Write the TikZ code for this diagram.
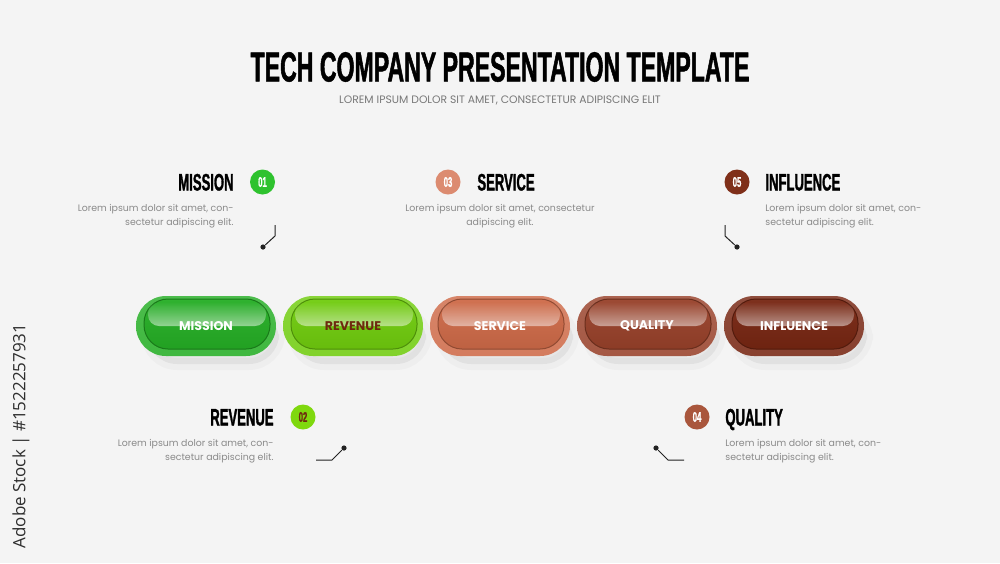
\documentclass[tikz,border=0pt]{standalone}
\usepackage{fontspec}
\setmainfont{Poppins}
\newfontfamily\headfont[FakeStretch=0.55, FakeBold=1.2]{Liberation Sans}
\newfontfamily\stockfont{Open Sans}
\usetikzlibrary{positioning, calc, fadings}

\definecolor{bgcol}{HTML}{F4F4F4}
\definecolor{txtgray}{HTML}{8A8A8A}
\definecolor{subgray}{HTML}{787878}
\definecolor{stockgray}{HTML}{2E2E2E}
\definecolor{linecol}{HTML}{222222}
\definecolor{missioncol}{HTML}{25AE25}
\definecolor{revenuecol}{HTML}{70CC0E}
\definecolor{servicecol}{HTML}{CE6A48}
\definecolor{qualitycol}{HTML}{98412A}
\definecolor{influencecol}{HTML}{772612}
\definecolor{revtext}{HTML}{6E2A0E}
\definecolor{badgeone}{HTML}{2EC22E}
\definecolor{badgetwo}{HTML}{7FD80E}
\definecolor{badgethree}{HTML}{DC8B70}
\definecolor{badgefour}{HTML}{A9563C}
\definecolor{badgefive}{HTML}{7F2F19}

\begin{document}
\begin{tikzpicture}[
    x=0.5pt, y=-0.5pt,
    title/.style={font=\headfont\bfseries\fontsize{21}{21}\selectfont, text=black, inner sep=0pt},
    subtitle/.style={font=\fontsize{5.4}{6}\selectfont, text=subgray, inner sep=0pt},
    heading/.style={font=\headfont\bfseries\fontsize{11.9}{12}\selectfont, text=black, inner sep=0pt},
    body/.style={font=\fontsize{4.7}{7}\selectfont, text=txtgray, inner sep=0pt},
    badge/.style={
        circle, fill=#1, minimum size=12.5pt, inner sep=0pt,
        text=white, font=\headfont\bfseries\fontsize{7}{7}\selectfont
    },
    pillshadow/.style={
        rectangle, rounded corners=15pt, fill=black, fill opacity=0.05,
        draw=black, draw opacity=0.025, line width=6pt,
        minimum width=66pt, minimum height=27pt
    },
    pillrim/.style={
        rectangle, rounded corners=15pt, minimum width=70pt, minimum height=30pt,
        top color=#1!82!white, bottom color=#1!88!white
    },
    pillbody/.style={
        rectangle, rounded corners=12pt, minimum width=63pt, minimum height=25pt,
        top color=#1!95!white, bottom color=#1!92!black,
        draw=#1!70!black, line width=0.5pt
    },
    pillgloss/.style={
        rectangle, rounded corners=5.5pt, minimum width=59pt, minimum height=12pt,
        fill=white, fill opacity=0.5, path fading=north
    },
    pilltext/.style={font=\bfseries\fontsize{6.3}{7}\selectfont, text=#1, inner sep=0pt},
    dot/.style={circle, fill=linecol, minimum size=2.6pt, inner sep=0pt},
    link/.style={draw=linecol, line width=0.5pt}
]

% background and frame
\fill[bgcol] (0,0) rectangle (1000,563);
\useasboundingbox (0,0) rectangle (1000,563);

\node[rotate=90, font=\stockfont\fontsize{8.5}{9}\selectfont, text=stockgray] (stock) at (21,436) {Adobe Stock | \#1522257931};

% 1. TITLE
\node[title] (Title) at (500,67) {TECH COMPANY PRESENTATION TEMPLATE};
\node[subtitle, anchor=base] (Sub) at (500,103) {LOREM IPSUM DOLOR SIT AMET, CONSECTETUR ADIPISCING ELIT};

% 2. TOP ROW: Mission, Service, Influence
\node[heading, anchor=base east] (HMission) at (234,190.5) {MISSION};
\node[badge=badgeone] (B1) at (262.5,182) {01};
\node[body, anchor=north east, align=right] (TMission) at (234,204) {Lorem ipsum dolor sit amet, con-\\sectetur adipiscing elit.};

\node[badge=badgethree] (B3) at (448,182) {03};
\node[heading, anchor=base west] (HService) at (477,190.5) {SERVICE};
\node[body, anchor=north, align=center] (TService) at (500,204) {Lorem ipsum dolor sit amet, consectetur\\adipiscing elit.};

\node[badge=badgefive] (B5) at (737,182) {05};
\node[heading, anchor=base west] (HInfluence) at (765,190.5) {INFLUENCE};
\node[body, anchor=north west, align=left] (TInfluence) at (765,204) {Lorem ipsum dolor sit amet, con-\\sectetur adipiscing elit.};

% top connectors
\coordinate (CMission) at (275,225);
\node[dot] (DMission) at (263,247) {};
\draw[link] (CMission) -- ++(0,11) -- (DMission);

\coordinate (CInfluence) at (725,225);
\node[dot] (DInfluence) at (737,247) {};
\draw[link] (CInfluence) -- ++(0,11) -- (DInfluence);

% 3. CENTER ROW: pills
\node[pillshadow] (SMission) at (213,337) {};
\node[pillshadow] (SRevenue) at (360,337) {};
\node[pillshadow] (SService) at (507,337) {};
\node[pillshadow] (SQuality) at (654,337) {};
\node[pillshadow] (SInfluence) at (801,337) {};

\node[pillrim=missioncol] (PMission) at (206,326) {};
\node[pillbody=missioncol] (IMission) at (207,324) {};
\node[pillgloss] (GMission) at (207,314) {};
\node[pilltext=white] (LMission) at (PMission) {MISSION};

\node[pillrim=revenuecol] (PRevenue) at (353,326) {};
\node[pillbody=revenuecol] (IRevenue) at (354,324) {};
\node[pillgloss] (GRevenue) at (354,314) {};
\node[pilltext=revtext] (LRevenue) at (PRevenue) {REVENUE};

\node[pillrim=servicecol] (PService) at (500,326) {};
\node[pillbody=servicecol] (IService) at (501,324) {};
\node[pillgloss] (GService) at (501,314) {};
\node[pilltext=white] (LService) at (PService) {SERVICE};

\node[pillrim=qualitycol] (PQuality) at (647,326) {};
\node[pillbody=qualitycol] (IQuality) at (648,324) {};
\node[pillgloss] (GQuality) at (648,314) {};
\node[pilltext=white] (LQuality) at (PQuality) {QUALITY};

\node[pillrim=influencecol] (PInfluence) at (794,326) {};
\node[pillbody=influencecol] (IInfluence) at (795,324) {};
\node[pillgloss] (GInfluence) at (795,314) {};
\node[pilltext=white] (LInfluence) at (PInfluence) {INFLUENCE};

% 4. BOTTOM ROW: Revenue, Quality
\node[heading, anchor=base east] (HRevenue) at (274,425.5) {REVENUE};
\node[badge=badgetwo, text=revtext] (B2) at (303,417) {02};
\node[body, anchor=north east, align=right] (TRevenue) at (274,439) {Lorem ipsum dolor sit amet, con-\\sectetur adipiscing elit.};

\node[badge=badgefour] (B4) at (697,417) {04};
\node[heading, anchor=base west] (HQuality) at (725,425.5) {QUALITY};
\node[body, anchor=north west, align=left] (TQuality) at (725,439) {Lorem ipsum dolor sit amet, con-\\sectetur adipiscing elit.};

% bottom connectors
\coordinate (CRevenue) at (316,460);
\node[dot] (DRevenue) at (344,448) {};
\draw[link] (CRevenue) -- ++(16,0) -- (DRevenue);

\coordinate (CQuality) at (684,460);
\node[dot] (DQuality) at (656,448) {};
\draw[link] (CQuality) -- ++(-16,0) -- (DQuality);

\end{tikzpicture}
\end{document}
